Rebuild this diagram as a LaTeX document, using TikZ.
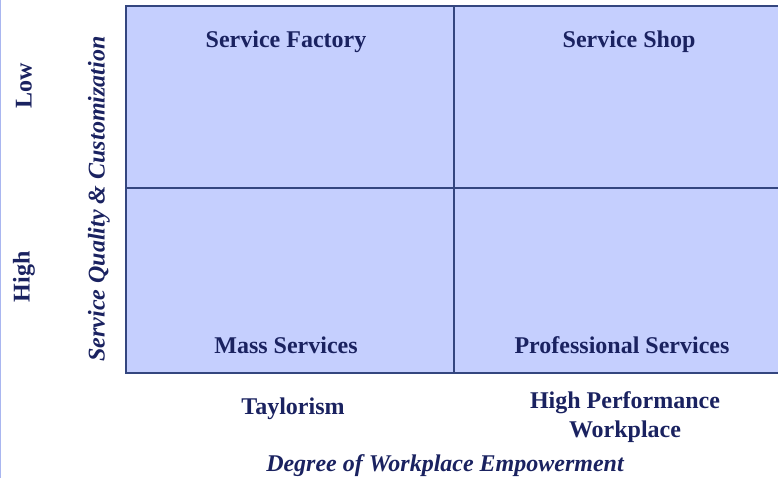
\documentclass[tikz,border=0pt]{standalone}
\usepackage{fontspec}
\setmainfont{Liberation Serif}
\begin{document}
\definecolor{cellfill}{HTML}{C5CFFE}
\definecolor{gridline}{HTML}{34467F}
\definecolor{navy}{HTML}{1A2260}
\definecolor{edgeblue}{HTML}{A9B6F0}
\begin{tikzpicture}[x=1pt,y=-1pt,
  lbl/.style={font=\fontsize{24}{29}\selectfont\bfseries, text=navy, inner sep=0pt, align=center},
  ilbl/.style={lbl, font=\fontsize{24}{29}\selectfont\bfseries\itshape},
  grid/.style={draw=gridline, line width=1.6pt}]
  \useasboundingbox (0,0) rectangle (778,478);
  % thin rule along the left edge
  \draw[edgeblue, line width=1.2pt] (0.6,0) -- (0.6,478);
  % quadrant grid
  \coordinate (tl) at (126,6);
  \coordinate (br) at (779,373);
  \coordinate (vt) at (454,6);
  \coordinate (vb) at (454,373);
  \coordinate (hl) at (126,188);
  \coordinate (hr) at (779,188);
  \fill[cellfill] (tl) rectangle (br);
  \draw[grid] (br) -| (tl) -- (779,6);
  \draw[grid] (vt) -- (vb);
  \draw[grid] (hl) -- (hr);
  % cell titles
  \node[lbl] (sf) at (286,42) {Service Factory};
  \node[lbl] (ss) at (629,42) {Service Shop};
  \node[lbl] (ms) at (286,345) {Mass Services};
  \node[lbl] (ps) at (622,345) {Professional Services};
  % horizontal axis
  \node[lbl] (tay) at (293,409) {Taylorism};
  \node[lbl] (hpw) at (625,417) {High Performance\\Workplace};
  \node[ilbl] (xax) at (445,466) {Degree of Workplace Empowerment};
  % vertical axis
  \node[lbl, rotate=90] (low) at (24,86) {Low};
  \node[lbl, rotate=90] (high) at (24,277) {High};
  \node[ilbl, rotate=90] (yax) at (99,199) {Service Quality \& Customization};
\end{tikzpicture}
\end{document}
